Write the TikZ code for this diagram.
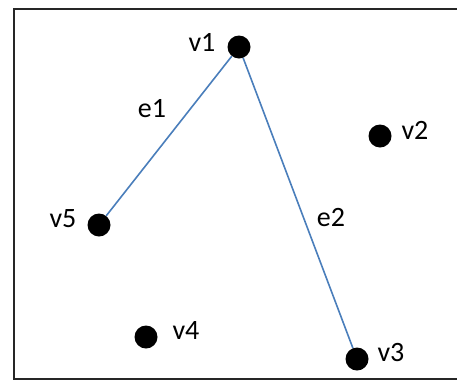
\documentclass[tikz,border=0pt]{standalone}
\usepackage{fontspec}
\setmainfont{Carlito}
\begin{document}
\begin{tikzpicture}[x=1pt,y=-1pt,
  vert/.style={circle,fill=black,inner sep=0pt,minimum size=23pt},
  lbl/.style={inner sep=0pt,font=\fontsize{28}{28}\selectfont},
  edge/.style={draw={rgb,255:red,74;green,126;blue,187},line width=1.6pt}]
\useasboundingbox (0,0) rectangle (457,381);
\draw[line width=2.2pt,black!85] (460,9) -- (14,9) -- (14,379) -- (460,379);
\node[vert] (v1) at (239,47) {};
\node[vert] (v2) at (380,136) {};
\node[vert] (v3) at (357,359) {};
\node[vert] (v4) at (146,337) {};
\node[vert] (v5) at (99,225) {};
\draw[edge] (v1) -- (v5);
\draw[edge] (v1) -- (v3);
\node[lbl] (l1) at (202,42) {v1};
\node[lbl] (l2) at (415,130) {v2};
\node[lbl] (l3) at (391,353) {v3};
\node[lbl] (l4) at (186,331) {v4};
\node[lbl] (l5) at (63,219) {v5};
\node[lbl] (le1) at (152,109) {e1};
\node[lbl] (le2) at (331,218) {e2};
\end{tikzpicture}
\end{document}
